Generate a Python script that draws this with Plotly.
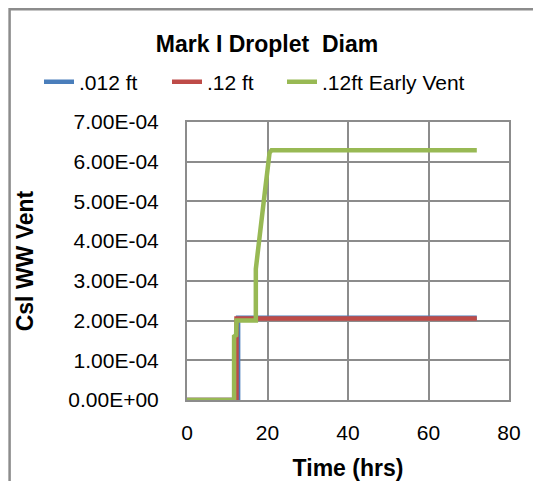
import plotly.graph_objects as go

# Data
x_012 = [0, 12.7, 12.7, 72]
y_012 = [0, 0, 2.07e-4, 2.07e-4]

x_12 = [0, 12.3, 12.3, 72]
y_12 = [0, 0, 2.05e-4, 2.05e-4]

x_12ev = [0, 11.7, 11.7, 12.2, 12.3, 17.1, 17.1, 17.7, 18.1, 18.8, 19.4, 20.0, 20.5, 21.0, 72]
y_12ev = [0, 0, 1.6e-4, 1.63e-4, 2.0e-4, 2.0e-4, 3.3e-4, 3.86e-4, 4.28e-4, 4.78e-4,
          5.29e-4, 5.79e-4, 6.22e-4, 6.29e-4, 6.29e-4]

series_names = [".012 ft", ".12 ft", ".12ft Early Vent"]
series_colors = ["#4a7ebb", "#be4b48", "#98b954"]

y_ticks = [0, 1e-4, 2e-4, 3e-4, 4e-4, 5e-4, 6e-4, 7e-4]
y_tick_labels = ["0.00E+00", "1.00E-04", "2.00E-04", "3.00E-04",
                 "4.00E-04", "5.00E-04", "6.00E-04", "7.00E-04"]
x_ticks = [0, 20, 40, 60, 80]
x_tick_labels = ["0", "20", "40", "60", "80"]

FONT = "Liberation Sans, Arial, sans-serif"
GRID = "#8c8c8c"

W, H = 533, 481
L, R, T, B = 187, 24, 122, 81
pw, ph = W - L - R, H - T - B

def px_x(p):
    return (p - L) / pw

def px_y(p):
    return (H - B - p) / ph

legend_ids = ["legend", "legend2", "legend3"]
legend_left_px = [39, 167, 282]

fig = go.Figure()
for xs, ys, name, col, lg in zip([x_012, x_12, x_12ev], [y_012, y_12, y_12ev],
                                 series_names, series_colors, legend_ids):
    fig.add_trace(go.Scatter(x=xs, y=ys, mode="lines", name=name, legend=lg,
                             line=dict(color=col, width=4.5), cliponaxis=False))

fig.add_shape(type="rect", xref="paper", yref="paper",
              x0=px_x(9.6), x1=px_x(560), y0=px_y(9.2), y1=px_y(520),
              line=dict(color="#8c8c8c", width=2.5), layer="below")

legend_style = dict(orientation="h", xanchor="left", y=px_y(82), yanchor="middle",
                    font=dict(size=21, family=FONT), bgcolor="rgba(0,0,0,0)",
                    itemwidth=30)

fig.update_layout(
    width=W, height=H,
    margin=dict(l=L, r=R, t=T, b=B, pad=0, autoexpand=False),
    paper_bgcolor="white", plot_bgcolor="white",
    font=dict(family=FONT, size=21, color="black"),
    title=dict(text="<b>Mark I Droplet  Diam</b>", font=dict(size=23, family=FONT),
               x=267 / W, xanchor="center", xref="container",
               y=1 - 44 / H, yanchor="middle", yref="container"),
    legend=dict(x=px_x(legend_left_px[0]), **legend_style),
    legend2=dict(x=px_x(legend_left_px[1]), **legend_style),
    legend3=dict(x=px_x(legend_left_px[2]), **legend_style),
    showlegend=True,
)
fig.update_xaxes(range=[0, 80], tickvals=x_ticks, ticktext=x_tick_labels,
                 showgrid=True, gridcolor=GRID, gridwidth=2,
                 showline=True, linecolor=GRID, linewidth=2, mirror=True,
                 zeroline=False, ticks="outside", ticklen=13, tickcolor="rgba(0,0,0,0)",
                 tickfont=dict(size=21), automargin=False,
                 title=dict(text="<b>Time (hrs)</b>", font=dict(size=23), standoff=19))
fig.update_yaxes(range=[0, 7e-4], tickvals=y_ticks, ticktext=y_tick_labels,
                 showgrid=True, gridcolor=GRID, gridwidth=2,
                 showline=True, linecolor=GRID, linewidth=2, mirror=True,
                 zeroline=False, ticks="outside", ticklen=22, tickcolor="rgba(0,0,0,0)",
                 tickfont=dict(size=21), automargin=False,
                 title=dict(text="<b>Csl WW Vent</b>", font=dict(size=23), standoff=28))

fig.write_html("out.html", config={"displayModeBar": False},
               post_script="document.body.style.margin='0';")
